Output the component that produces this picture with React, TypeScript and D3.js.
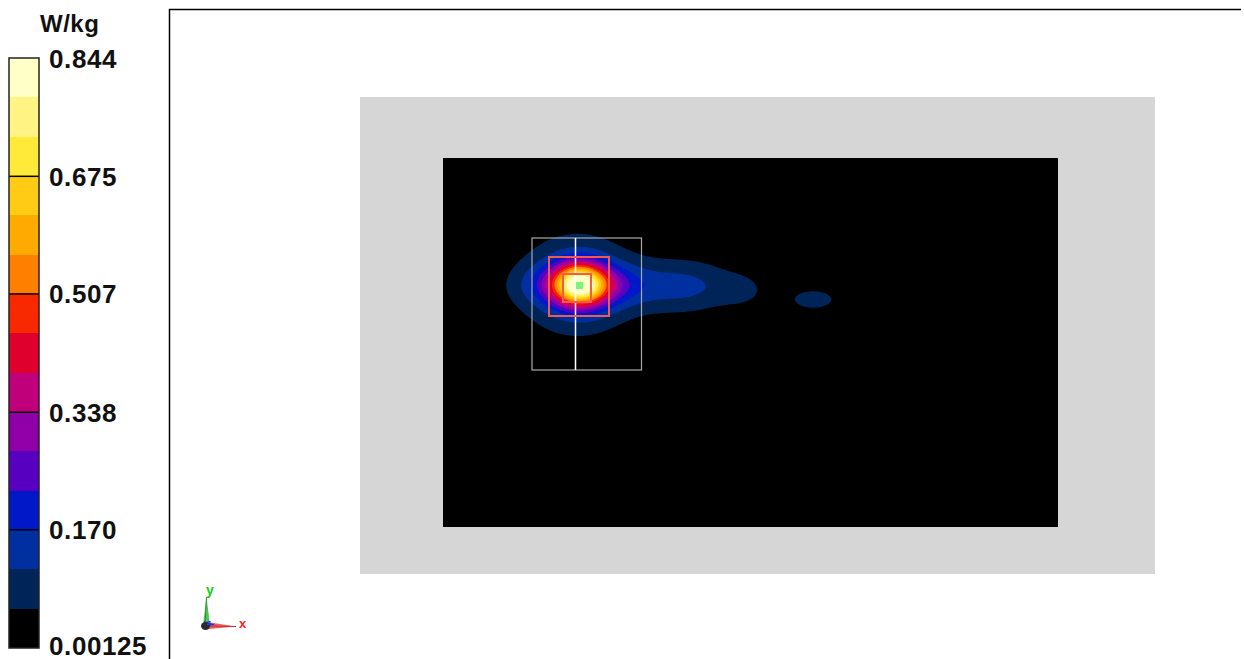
import React, { useMemo } from 'react';
import * as d3 from 'd3';

const W = 1244;
const H = 659;

// ---- colour bar (bottom -> top) ----
const bandColors = [
  "#000000", "#002458", "#0030A0", "#0018C8", "#5800C0",
  "#9000A8", "#C0007A", "#E0002E", "#F82800", "#FF8000",
  "#FFAA00", "#FFCB14", "#FFEA3A", "#FFF383", "#FFFFC8",
];
const colorMin = 0.00125;
const colorMax = 0.844;
const tickValues = [0.844, 0.675, 0.507, 0.338, 0.170, 0.00125];
const tickLabels = ["0.844", "0.675", "0.507", "0.338", "0.170", "0.00125"];
const unitLabel = "W/kg";

// ---- geometry (mm) ----
const phantomX = [-16.6, 142.4];
const phantomY = [-12.2, 83.2];
const scanX = [0, 123];
const scanY = [0, 73.8];
const zoomScanX = [17.8, 39.7];
const zoomScanY = [16, 42.4];
const peakCubeX = [21.2, 33.2];
const peakCubeY = [19.8, 31.6];
const innerCubeX = [24, 29.6];
const innerCubeY = [23.2, 28.8];
const sliceLineX = 26.5;
const peakPoint = [27.3, 25.5];
const peakPointSize = 1.4;

// ---- SAR hot-spot sources (mm, W/kg) ----
const srcX = [27.3, 28.2, 26.8, 48.4, 59.8, 74.1];
const srcY = [25.3, 25.4, 25.4, 25.6, 26.4, 28.3];
const srcAmp = [0.55, 0.25, 0.14, 0.125, 0.055, 0.08];
const srcSx = [3.6, 7.0, 8.6, 7.6, 3.2, 4.4];
const srcSy = [3.0, 2.8, 7.5, 3.9, 2.2, 2.0];

const FONT = "'Liberation Sans', Arial, 'DejaVu Sans', sans-serif";

export default function App() {
  const xS = d3.scaleLinear().domain(scanX).range([443, 1058]);
  const yS = d3.scaleLinear().domain(scanY).range([158, 527]);
  const cb = d3.scaleLinear().domain([colorMin, colorMax]).range([648, 58]);

  const nBands = bandColors.length;
  const edges = d3.range(nBands + 1).map((i) => colorMin + (i * (colorMax - colorMin)) / nBands);

  const contourPaths = useMemo(() => {
    const step = 0.4;
    const nx = Math.ceil((scanX[1] - scanX[0]) / step);
    const ny = Math.ceil((scanY[1] - scanY[0]) / step);
    const values = new Array(nx * ny);
    for (let j = 0; j < ny; j++) {
      const y = scanY[0] + (j + 0.5) * step;
      for (let i = 0; i < nx; i++) {
        const x = scanX[0] + (i + 0.5) * step;
        let v = 0;
        for (let k = 0; k < srcX.length; k++) {
          const dx = (x - srcX[k]) / srcSx[k];
          const dy = (y - srcY[k]) / srcSy[k];
          v += srcAmp[k] * Math.exp(-0.5 * (dx * dx + dy * dy));
        }
        values[j * nx + i] = v;
      }
    }
    const thresholds = edges.slice(1, nBands);
    const contours = d3.contours().size([nx, ny]).thresholds(thresholds)(values);
    const proj = d3.geoTransform({
      point: function (px: number, py: number) {
        // @ts-ignore
        this.stream.point(xS(scanX[0] + px * step), yS(scanY[0] + py * step));
      },
    });
    const path = d3.geoPath(proj);
    return contours.map((c, i) => ({ d: path(c as any) || "", color: bandColors[i + 1] }));
  }, []);

  const rect = (xr: number[], yr: number[]) => ({
    x: xS(xr[0]),
    y: yS(yr[0]),
    width: xS(xr[1]) - xS(xr[0]),
    height: yS(yr[1]) - yS(yr[0]),
  });

  return (
    <svg
      width={W}
      height={H}
      style={{ position: 'absolute', left: 0, top: 0, background: '#fff' }}
      fontFamily={FONT}
    >
      <rect x={0} y={0} width={W} height={H} fill="#ffffff" />

      {/* frame */}
      <line x1={169} y1={9.5} x2={1241} y2={9.5} stroke="#000" strokeWidth={1.5} />
      <line x1={169.5} y1={9} x2={169.5} y2={H} stroke="#000" strokeWidth={1.5} />

      {/* colour bar */}
      <g>
        {bandColors.map((c, i) => (
          <rect
            key={i}
            x={9}
            y={cb(edges[i + 1])}
            width={30}
            height={cb(edges[i]) - cb(edges[i + 1])}
            fill={c}
            shapeRendering="crispEdges"
          />
        ))}
        {tickValues.slice(1, tickValues.length - 1).map((v, i) => (
          <line key={i} x1={9} x2={39} y1={cb(v)} y2={cb(v)} stroke="#000" strokeWidth={1.5} />
        ))}
        <rect x={9} y={cb(colorMax)} width={30} height={cb(colorMin) - cb(colorMax)} fill="none" stroke="#222" strokeWidth={1.5} />
        {tickLabels.map((t, i) => (
          <text
            key={t}
            x={49}
            y={Math.min(cb(tickValues[i]) + 9.5, 654.5)}
            fontSize={26}
            fontWeight="bold"
            fill="#111"
            letterSpacing={0.6}
          >
            {t}
          </text>
        ))}
        <text x={40} y={32} fontSize={24} fontWeight="bold" fill="#111" letterSpacing={0.5}>
          {unitLabel}
        </text>
      </g>

      {/* phantom & scan area */}
      <rect {...rect(phantomX, phantomY)} fill="#D6D6D6" shapeRendering="crispEdges" />
      <defs>
        <clipPath id="scanClip">
          <rect {...rect(scanX, scanY)} />
        </clipPath>
      </defs>
      <rect {...rect(scanX, scanY)} fill={bandColors[0]} shapeRendering="crispEdges" />
      <g clipPath="url(#scanClip)">
        {contourPaths.map((p, i) => (
          <path key={i} d={p.d} fill={p.color} stroke="none" />
        ))}
      </g>

      {/* zoom scan outline, slice line, cubes */}
      <rect {...rect(zoomScanX, zoomScanY)} fill="none" stroke="#A8A8A8" strokeWidth={1.2} />
      <line
        x1={xS(sliceLineX)}
        x2={xS(sliceLineX)}
        y1={yS(zoomScanY[0])}
        y2={yS(zoomScanY[1])}
        stroke="#ffffff"
        strokeWidth={1.5}
      />
      <rect {...rect(peakCubeX, peakCubeY)} fill="none" stroke="#F05A50" strokeWidth={2} />
      <rect {...rect(innerCubeX, innerCubeY)} fill="none" stroke="#F05A50" strokeWidth={2} />
      <rect
        x={xS(peakPoint[0] - peakPointSize / 2)}
        y={yS(peakPoint[1] - peakPointSize / 2)}
        width={xS(peakPointSize) - xS(0)}
        height={yS(peakPointSize) - yS(0)}
        fill="#7CF57C"
      />

      {/* axis glyph */}
      <g>
        <polygon points="203,625 210,625 206.5,597" fill="#50C850" />
        <line x1={206.5} y1={597} x2={205} y2={625} stroke="#2E8B2E" strokeWidth={1} />
        <polygon points="204,621.5 204,629.5 236,626.5" fill="#F06060" />
        <line x1={204} y1={626} x2={236} y2={626.5} stroke="#C03030" strokeWidth={1} />
        <polygon points="204,621 204,627.5 215,624.5" fill="#2030F0" />
        <ellipse cx={205.5} cy={626} rx={4.5} ry={4} fill="#2A2A2A" />
        <text x={206} y={595} fontSize={14} fontWeight="bold" fill="#10D010">y</text>
        <text x={239} y={628} fontSize={13} fontWeight="bold" fill="#FF2020">x</text>
        <text x={207} y={625} fontSize={8} fontWeight="bold" fill="#2040FF">z</text>
      </g>
    </svg>
  );
}
